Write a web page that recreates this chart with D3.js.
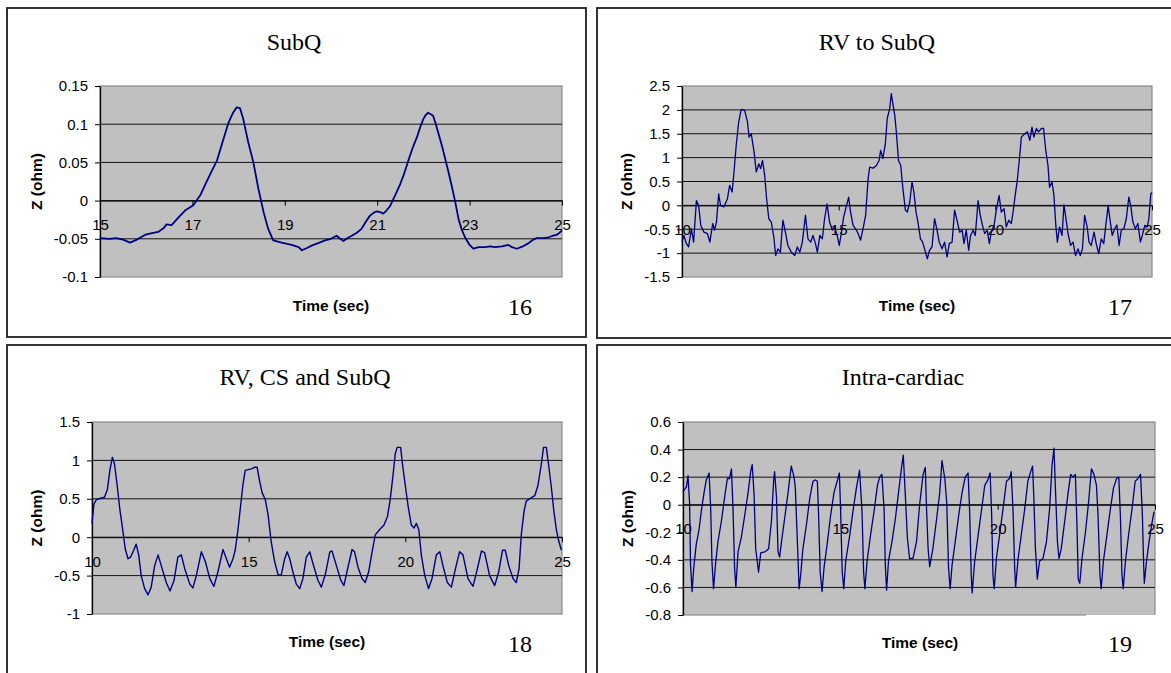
<!DOCTYPE html>
<html>
<head>
<meta charset="utf-8">
<script src="https://cdn.jsdelivr.net/npm/d3@7"></script>
<style>
  body { margin: 0; background: #fff; }
  svg text { font-family: "Liberation Sans", Arial, sans-serif; }
</style>
</head>
<body>
<div id="canvas"></div>
<script>
// ---- data ----
var subqTicksX = [15, 17, 19, 21, 23, 25];
var subqTicksY = [-0.1, -0.05, 0, 0.05, 0.1, 0.15];
var subqGrid = [-0.05, 0, 0.05, 0.1];
var subqTrace = [
  [15.00,-0.049],[15.2,-0.050],[15.35,-0.049],[15.5,-0.051],[15.65,-0.055],[15.8,-0.051],[15.97,-0.045],
  [16.1,-0.043],[16.26,-0.041],[16.38,-0.036],[16.44,-0.031],[16.55,-0.032],[16.7,-0.022],[16.84,-0.013],
  [17.02,-0.006],[17.09,0.000],[17.18,0.008],[17.27,0.020],[17.35,0.030],[17.42,0.039],[17.53,0.052],
  [17.63,0.072],[17.7,0.086],[17.77,0.100],[17.84,0.110],[17.89,0.116],[17.96,0.122],[18.03,0.121],
  [18.1,0.107],[18.16,0.090],[18.21,0.076],[18.32,0.050],[18.43,0.015],[18.54,-0.015],[18.64,-0.037],
  [18.75,-0.052],[18.93,-0.055],[19.15,-0.058],[19.3,-0.061],[19.37,-0.065],[19.48,-0.062],[19.58,-0.059],
  [19.75,-0.055],[19.87,-0.052],[20.0,-0.050],[20.12,-0.046],[20.2,-0.050],[20.27,-0.053],[20.36,-0.049],
  [20.45,-0.046],[20.56,-0.042],[20.66,-0.037],[20.75,-0.028],[20.84,-0.020],[20.92,-0.016],[20.99,-0.014],
  [21.06,-0.015],[21.13,-0.017],[21.2,-0.013],[21.28,-0.007],[21.35,0.002],[21.42,0.011],[21.5,0.022],
  [21.57,0.033],[21.64,0.046],[21.71,0.059],[21.78,0.071],[21.86,0.083],[21.93,0.096],[22.0,0.107],
  [22.05,0.112],[22.1,0.115],[22.16,0.113],[22.21,0.111],[22.27,0.100],[22.32,0.089],[22.4,0.072],
  [22.47,0.055],[22.54,0.038],[22.61,0.020],[22.69,-0.002],[22.76,-0.024],[22.83,-0.038],[22.9,-0.048],
  [23.0,-0.058],[23.08,-0.063],[23.2,-0.061],[23.33,-0.061],[23.45,-0.060],[23.55,-0.061],[23.7,-0.060],
  [23.84,-0.058],[23.92,-0.061],[24.02,-0.063],[24.15,-0.060],[24.27,-0.056],[24.36,-0.052],[24.45,-0.049],
  [24.58,-0.049],[24.71,-0.048],[24.8,-0.046],[24.88,-0.045],[24.95,-0.042],[25.0,-0.039]
];

var tenTo25Ticks = [10, 15, 20, 25];

var rvTicksY = [-1.5, -1, -0.5, 0, 0.5, 1, 1.5, 2, 2.5];
var rvGrid = [-1, -0.5, 0, 0.5, 1, 1.5, 2];
var rvTrace = [
  [10.00,-0.77],[10.06,-0.63],[10.14,-0.80],[10.21,-0.87],[10.30,-0.49],[10.37,-0.77],[10.46,0.10],[10.53,0.0],
  [10.60,-0.42],[10.70,-0.56],[10.81,-0.59],[10.89,-0.77],[10.98,-0.38],[11.04,-0.52],[11.10,-0.35],[11.17,0.24],
  [11.23,0.0],[11.34,-0.03],[11.45,0.14],[11.52,0.42],[11.60,0.28],[11.66,0.70],[11.73,1.26],[11.81,1.75],
  [11.89,2.01],[12.00,1.99],[12.09,1.75],[12.14,1.43],[12.21,1.50],[12.30,1.12],[12.37,0.70],[12.45,0.87],
  [12.51,0.77],[12.57,0.94],[12.64,0.63],[12.70,0.14],[12.77,-0.28],[12.85,-0.35],[12.93,-0.66],[12.99,-1.05],
  [13.06,-0.91],[13.14,-0.98],[13.22,-0.31],[13.30,-0.56],[13.38,-0.84],[13.49,-0.98],[13.60,-1.05],[13.68,-0.87],
  [13.76,-0.98],[13.84,-0.77],[13.94,-0.21],[14.02,-0.70],[14.11,-0.77],[14.18,-0.63],[14.26,-0.80],[14.32,-0.98],
  [14.40,-0.63],[14.48,-0.70],[14.55,-0.28],[14.63,0.03],[14.71,-0.35],[14.80,-0.52],[14.87,-0.45],[14.95,-0.63],
  [15.02,-0.84],[15.09,-0.56],[15.16,-0.24],[15.24,-0.03],[15.32,0.17],[15.38,-0.14],[15.46,-0.42],[15.54,-0.49],
  [15.62,-0.59],[15.70,-0.73],[15.79,-0.45],[15.86,-0.21],[15.94,0.56],[15.99,0.80],[16.10,0.78],[16.20,0.83],
  [16.29,0.94],[16.34,1.15],[16.41,0.98],[16.49,1.29],[16.55,1.82],[16.63,2.03],[16.68,2.34],[16.73,2.13],
  [16.79,1.89],[16.84,1.54],[16.91,0.94],[16.98,0.84],[17.05,0.35],[17.13,-0.10],[17.19,-0.14],[17.27,0.07],
  [17.34,0.49],[17.40,0.28],[17.47,-0.14],[17.53,-0.35],[17.61,-0.70],[17.68,-0.77],[17.77,-0.98],[17.83,-1.12],
  [17.90,-0.94],[17.98,-0.87],[18.06,-0.28],[18.14,-0.52],[18.21,-0.77],[18.30,-0.91],[18.38,-0.77],[18.46,-1.08],
  [18.53,-0.80],[18.62,-0.77],[18.70,-0.10],[18.79,-0.35],[18.86,-0.56],[18.94,-0.52],[19.00,-0.80],[19.07,-0.52],
  [19.15,-0.94],[19.21,-0.63],[19.29,-0.52],[19.36,-0.63],[19.45,0.10],[19.52,-0.21],[19.59,-0.42],[19.66,-0.59],
  [19.74,-0.52],[19.81,-0.80],[19.87,-0.56],[19.96,-0.42],[20.03,-0.10],[20.12,0.21],[20.19,-0.14],[20.28,-0.07],
  [20.35,-0.45],[20.43,-0.31],[20.51,-0.38],[20.56,-0.17],[20.64,0.24],[20.70,0.52],[20.78,1.05],[20.83,1.43],
  [20.94,1.50],[21.02,1.54],[21.10,1.36],[21.17,1.64],[21.23,1.43],[21.31,1.61],[21.38,1.54],[21.47,1.61],
  [21.54,1.61],[21.61,1.15],[21.68,0.84],[21.73,0.38],[21.81,0.49],[21.87,0.21],[21.93,-0.42],[21.98,-0.77],
  [22.05,-0.45],[22.13,-0.63],[22.19,0.01],[22.24,-0.21],[22.32,-0.59],[22.40,-0.84],[22.48,-0.77],[22.56,-1.05],
  [22.64,-0.91],[22.71,-1.05],[22.78,-0.91],[22.85,-0.21],[22.93,-0.45],[22.99,-0.77],[23.06,-0.84],[23.15,-0.56],
  [23.22,-0.80],[23.30,-1.01],[23.38,-0.70],[23.46,-0.80],[23.52,-0.45],[23.60,-0.01],[23.67,-0.35],[23.73,-0.63],
  [23.81,-0.49],[23.88,-0.41],[23.95,-0.84],[24.02,-0.52],[24.10,-0.49],[24.18,-0.28],[24.26,0.17],[24.32,0.0],
  [24.39,-0.35],[24.47,-0.49],[24.55,-0.38],[24.63,-0.77],[24.69,-0.63],[24.77,-0.42],[24.85,-0.45],[24.90,-0.28],
  [24.96,0.24],[25.00,0.27]
];

var rvcsTicksY = [-1, -0.5, 0, 0.5, 1, 1.5];
var rvcsGrid = [-0.5, 0, 0.5, 1];
var rvcsTrace = [
  [10.00,0.18],[10.06,0.43],[10.14,0.49],[10.30,0.51],[10.40,0.52],[10.49,0.62],[10.57,0.87],[10.65,1.04],
  [10.72,0.95],[10.81,0.65],[10.89,0.36],[10.99,0.07],[11.06,-0.15],[11.15,-0.28],[11.23,-0.26],[11.33,-0.17],
  [11.41,-0.09],[11.49,-0.23],[11.57,-0.50],[11.68,-0.67],[11.79,-0.75],[11.89,-0.65],[12.00,-0.37],[12.11,-0.23],
  [12.21,-0.37],[12.37,-0.59],[12.49,-0.70],[12.62,-0.56],[12.74,-0.26],[12.85,-0.23],[12.96,-0.41],[13.12,-0.61],
  [13.22,-0.66],[13.33,-0.50],[13.49,-0.19],[13.62,-0.32],[13.76,-0.54],[13.89,-0.64],[14.02,-0.45],[14.18,-0.16],
  [14.29,-0.28],[14.39,-0.39],[14.50,-0.28],[14.57,-0.17],[14.66,0.10],[14.74,0.40],[14.82,0.69],[14.89,0.87],
  [14.98,0.88],[15.09,0.89],[15.19,0.91],[15.27,0.91],[15.35,0.73],[15.43,0.58],[15.53,0.49],[15.62,0.29],
  [15.72,-0.06],[15.83,-0.32],[15.94,-0.49],[16.04,-0.49],[16.15,-0.28],[16.23,-0.19],[16.31,-0.28],[16.41,-0.45],
  [16.52,-0.61],[16.63,-0.67],[16.73,-0.54],[16.84,-0.26],[16.95,-0.19],[17.05,-0.34],[17.21,-0.56],[17.32,-0.65],
  [17.45,-0.48],[17.59,-0.19],[17.66,-0.18],[17.80,-0.37],[17.94,-0.56],[18.04,-0.63],[18.17,-0.39],[18.30,-0.16],
  [18.38,-0.19],[18.49,-0.39],[18.62,-0.54],[18.72,-0.59],[18.83,-0.45],[18.94,-0.19],[19.04,0.03],[19.18,0.10],
  [19.32,0.16],[19.43,0.27],[19.51,0.47],[19.60,0.78],[19.68,1.09],[19.74,1.17],[19.85,1.17],[19.91,0.95],
  [20.00,0.67],[20.09,0.40],[20.19,0.16],[20.28,0.12],[20.35,0.18],[20.43,0.10],[20.51,-0.23],[20.62,-0.50],
  [20.74,-0.67],[20.85,-0.54],[20.99,-0.23],[21.10,-0.19],[21.20,-0.37],[21.34,-0.59],[21.47,-0.65],[21.60,-0.41],
  [21.73,-0.19],[21.84,-0.23],[22.00,-0.54],[22.16,-0.64],[22.30,-0.41],[22.43,-0.18],[22.53,-0.20],[22.69,-0.50],
  [22.85,-0.63],[22.98,-0.45],[23.10,-0.17],[23.19,-0.17],[23.30,-0.37],[23.44,-0.54],[23.54,-0.59],[23.63,-0.41],
  [23.70,0.03],[23.79,0.34],[23.86,0.47],[24.00,0.51],[24.13,0.54],[24.23,0.67],[24.34,0.95],[24.41,1.17],
  [24.50,1.17],[24.57,0.95],[24.66,0.65],[24.74,0.34],[24.82,0.10],[24.89,-0.04],[24.98,-0.17]
];

var intraTicksY = [-0.8, -0.6, -0.4, -0.2, 0, 0.2, 0.4, 0.6];
var intraGrid = [-0.6, -0.4, 0, 0.2, 0.4];
var intraTrace = [
  [10.00,0.095],[10.11,0.13],[10.16,0.21],[10.21,0.01],[10.24,-0.44],[10.29,-0.63],[10.34,-0.46],[10.42,-0.29],
  [10.51,-0.18],[10.58,-0.05],[10.67,0.09],[10.74,0.18],[10.83,0.23],[10.88,-0.03],[10.92,-0.41],[10.97,-0.61],
  [11.03,-0.44],[11.11,-0.27],[11.22,-0.12],[11.32,0.05],[11.41,0.19],[11.48,0.19],[11.54,0.26],[11.59,-0.03],
  [11.64,-0.46],[11.68,-0.60],[11.75,-0.34],[11.85,-0.24],[11.96,-0.08],[12.07,0.09],[12.15,0.24],[12.20,0.29],
  [12.26,0.07],[12.31,-0.32],[12.36,-0.41],[12.40,-0.49],[12.47,-0.35],[12.62,-0.34],[12.72,-0.32],[12.81,-0.12],
  [12.88,0.17],[12.91,0.24],[12.97,0.06],[13.02,-0.34],[13.07,-0.38],[13.13,-0.27],[13.23,-0.10],[13.34,0.09],
  [13.44,0.28],[13.53,0.20],[13.57,0.12],[13.63,-0.24],[13.69,-0.61],[13.74,-0.51],[13.81,-0.32],[13.92,-0.15],
  [14.03,0.05],[14.13,0.17],[14.21,0.18],[14.27,0.17],[14.31,-0.08],[14.36,-0.49],[14.42,-0.63],[14.48,-0.46],
  [14.59,-0.27],[14.69,-0.08],[14.80,0.09],[14.90,0.17],[14.97,0.23],[15.01,-0.05],[15.06,-0.49],[15.11,-0.61],
  [15.17,-0.41],[15.30,-0.22],[15.40,-0.05],[15.51,0.12],[15.61,0.25],[15.69,-0.05],[15.74,-0.49],[15.78,-0.61],
  [15.85,-0.41],[15.96,-0.22],[16.07,-0.05],[16.18,0.14],[16.25,0.20],[16.32,0.22],[16.39,-0.03],[16.43,-0.44],
  [16.47,-0.62],[16.53,-0.41],[16.64,-0.27],[16.75,-0.10],[16.85,0.09],[16.94,0.26],[17.00,0.36],[17.07,0.05],
  [17.13,-0.24],[17.20,-0.39],[17.31,-0.39],[17.42,-0.27],[17.52,0.00],[17.63,0.22],[17.70,0.27],[17.74,-0.03],
  [17.79,-0.32],[17.84,-0.45],[17.94,-0.32],[18.05,-0.12],[18.16,0.09],[18.23,0.32],[18.32,0.19],[18.38,0.02],
  [18.44,-0.46],[18.49,-0.61],[18.55,-0.44],[18.65,-0.27],[18.76,-0.08],[18.87,0.09],[18.97,0.20],[19.06,0.23],
  [19.11,-0.05],[19.16,-0.51],[19.19,-0.64],[19.27,-0.41],[19.38,-0.22],[19.48,-0.05],[19.59,0.14],[19.69,0.18],
  [19.76,0.23],[19.81,-0.08],[19.85,-0.51],[19.89,-0.61],[19.96,-0.39],[20.06,-0.22],[20.17,-0.03],[20.28,0.17],
  [20.38,0.19],[20.43,0.24],[20.49,-0.05],[20.54,-0.46],[20.57,-0.60],[20.65,-0.39],[20.75,-0.22],[20.86,-0.03],
  [20.96,0.17],[21.05,0.24],[21.11,0.28],[21.15,0.05],[21.20,-0.32],[21.26,-0.54],[21.33,-0.41],[21.44,-0.39],
  [21.55,-0.27],[21.65,-0.03],[21.73,0.29],[21.79,0.41],[21.84,0.09],[21.90,-0.27],[21.95,-0.39],[22.02,-0.32],
  [22.13,-0.12],[22.24,0.09],[22.32,0.22],[22.39,0.20],[22.47,0.22],[22.52,-0.15],[22.56,-0.54],[22.61,-0.57],
  [22.68,-0.39],[22.79,-0.20],[22.89,0.02],[22.98,0.26],[23.06,0.22],[23.14,0.14],[23.19,-0.08],[23.25,-0.51],
  [23.29,-0.61],[23.36,-0.41],[23.46,-0.24],[23.57,-0.05],[23.68,0.12],[23.78,0.19],[23.85,0.20],[23.90,-0.08],
  [23.95,-0.51],[23.99,-0.61],[24.06,-0.41],[24.16,-0.22],[24.27,-0.03],[24.37,0.17],[24.46,0.19],[24.54,0.22],
  [24.60,-0.08],[24.64,-0.44],[24.66,-0.57],[24.73,-0.41],[24.81,-0.27],[24.89,-0.15],[24.97,-0.05]
];

// ---- layout of the four boxes ----
var panels = [
  { title: "SubQ", num: "16", box: [7, 8, 579, 329], plot: [100, 86, 562, 277],
    titleX: 294, titleY: 50, numX: 520, numY: 315, timeX: 331, timeY: 311, zX: 36,
    data: subqTrace, xDomain: [15, 25], xTicks: subqTicksX,
    yDomain: [-0.1, 0.15], yTicks: subqTicksY, grid: subqGrid, lw: 1.8 },
  { title: "RV to SubQ", num: "17", box: [597, 8, 590, 330], plot: [682, 86, 1152, 277],
    titleX: 877, titleY: 50, numX: 1120, numY: 315, timeX: 917, timeY: 311, zX: 626,
    data: rvTrace, xDomain: [10, 25], xTicks: tenTo25Ticks,
    yDomain: [-1.5, 2.5], yTicks: rvTicksY, grid: rvGrid, lw: 1.3 },
  { title: "RV, CS and SubQ", num: "18", box: [7, 345, 579, 340], plot: [92, 422, 562, 614],
    titleX: 305, titleY: 385, numX: 520, numY: 652, timeX: 327, timeY: 647, zX: 36,
    data: rvcsTrace, xDomain: [10, 25], xTicks: tenTo25Ticks,
    yDomain: [-1, 1.5], yTicks: rvcsTicksY, grid: rvcsGrid, lw: 1.4 },
  { title: "Intra-cardiac", num: "19", box: [597, 345, 590, 340], plot: [683, 422, 1155, 615],
    titleX: 903, titleY: 385, numX: 1120, numY: 652, timeX: 920, timeY: 648, zX: 627,
    data: intraTrace, xDomain: [10, 25], xTicks: tenTo25Ticks,
    yDomain: [-0.8, 0.6], yTicks: intraTicksY, grid: intraGrid, lw: 1.3 }
];

var svg = d3.select("#canvas")
    .append("svg")
    .attr("width", 1171)
    .attr("height", 673);

panels.forEach(function (p) {
    var g = svg.append("g");
    var left = p.plot[0], top = p.plot[1], right = p.plot[2], bottom = p.plot[3];

    // outer frame
    g.append("rect")
        .attr("x", p.box[0]).attr("y", p.box[1])
        .attr("width", p.box[2]).attr("height", p.box[3])
        .attr("fill", "none")
        .attr("stroke", "#1e1e1e")
        .attr("stroke-width", 1.8);

    var x = d3.scaleLinear().domain(p.xDomain).range([left, right]);
    var y = d3.scaleLinear().domain(p.yDomain).range([bottom, top]);

    // plot area
    g.append("rect")
        .attr("x", left).attr("y", top)
        .attr("width", right - left).attr("height", bottom - top)
        .attr("fill", "#c0c0c0")
        .attr("stroke", "#8a8a8a")
        .attr("stroke-width", 1.2);

    // gridlines
    g.selectAll(".grid")
        .data(p.grid)
        .enter()
        .append("line")
        .attr("x1", left).attr("x2", right)
        .attr("y1", function (d) { return y(d); })
        .attr("y2", function (d) { return y(d); })
        .attr("stroke", "#111")
        .attr("stroke-width", 1);

    // y axis
    var yAxis = g.append("g")
        .attr("transform", "translate(" + left + ",0)")
        .call(d3.axisLeft(y).tickValues(p.yTicks).tickSizeInner(5).tickSizeOuter(0)
            .tickPadding(7).tickFormat(function (d) { return String(d); }));
    yAxis.select(".domain").attr("stroke", "#000").attr("stroke-width", 1.3);
    yAxis.selectAll("line").attr("stroke", "#000");
    yAxis.selectAll("text")
        .attr("fill", "#000")
        .style("font-size", "15px")
        .style("font-family", "'Liberation Sans', Arial, sans-serif");

    // x axis crossing at zero
    var xAxis = g.append("g")
        .attr("transform", "translate(0," + y(0) + ")")
        .call(d3.axisBottom(x).tickValues(p.xTicks).tickSizeInner(5).tickSizeOuter(0)
            .tickPadding(14).tickFormat(function (d) { return String(d); }));
    xAxis.select(".domain").attr("stroke", "#000").attr("stroke-width", 1);
    xAxis.selectAll("line").attr("stroke", "#000");
    xAxis.selectAll("text")
        .attr("fill", "#000")
        .style("font-size", "15px")
        .style("font-family", "'Liberation Sans', Arial, sans-serif");

    // trace
    var line = d3.line()
        .x(function (d) { return x(d[0]); })
        .y(function (d) { return y(d[1]); });

    g.append("path")
        .datum(p.data)
        .attr("d", line)
        .attr("fill", "none")
        .attr("stroke", "#000080")
        .attr("stroke-width", p.lw)
        .attr("stroke-linejoin", "round");

    // titles
    g.append("text")
        .attr("x", p.titleX).attr("y", p.titleY)
        .attr("text-anchor", "middle")
        .style("font-family", "'Liberation Serif', 'Times New Roman', serif")
        .style("font-size", "24px")
        .text(p.title);

    g.append("text")
        .attr("x", p.numX).attr("y", p.numY)
        .attr("text-anchor", "middle")
        .style("font-family", "'Liberation Serif', 'Times New Roman', serif")
        .style("font-size", "24px")
        .text(p.num);

    g.append("text")
        .attr("x", p.timeX).attr("y", p.timeY)
        .attr("text-anchor", "middle")
        .style("font-size", "15.5px")
        .style("font-weight", "bold")
        .text("Time (sec)");

    g.append("text")
        .attr("transform", "translate(" + p.zX + "," + ((top + bottom) / 2) + ") rotate(-90)")
        .attr("text-anchor", "middle")
        .attr("dominant-baseline", "central")
        .style("font-size", "15.5px")
        .style("font-weight", "bold")
        .text("Z (ohm)");
});

// small white gap on the bottom edge of the last plot
svg.append("line")
    .attr("x1", 1086).attr("x2", 1156)
    .attr("y1", 615.5).attr("y2", 615.5)
    .attr("stroke", "#fff")
    .attr("stroke-width", 1.5);
</script>
</body>
</html>
